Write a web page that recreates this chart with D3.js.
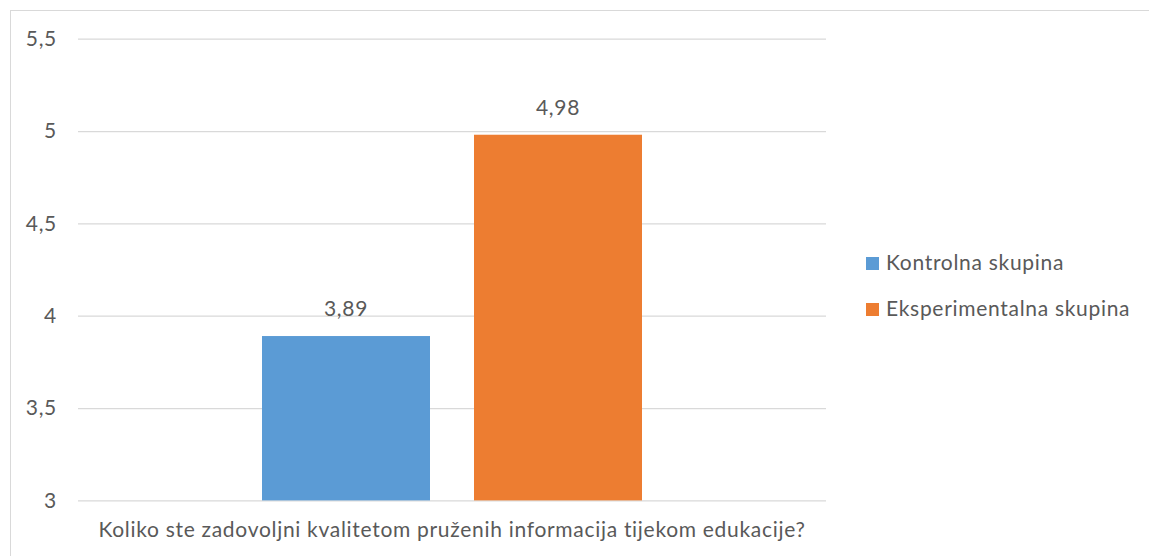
<!DOCTYPE html>
<html><head><meta charset="utf-8">
<script src="https://cdn.jsdelivr.net/npm/d3@7"></script>
<style>body{margin:0;background:#fff}svg{display:block}text{font-family:Lato,"Open Sans",sans-serif;fill:#595959;letter-spacing:0.7px}</style>
</head><body><svg id="c" width="1149" height="556"></svg>
<script>
const category = "Koliko ste zadovoljni kvalitetom pruženih informacija tijekom edukacije?";
const seriesNames = ["Kontrolna skupina", "Eksperimentalna skupina"];
const seriesValues = [3.89, 4.98];
const seriesColors = ["#5B9BD5", "#ED7D31"];
const yTicks = [3, 3.5, 4, 4.5, 5, 5.5];

const svg = d3.select("#c");
const fmt = v => String(v).replace(".", ",");
const fs = 21;

svg.append("rect").attr("x",10.5).attr("y",10.5).attr("width",1200).attr("height",600)
  .attr("fill","none").attr("stroke","#d9d9d9");

const x0 = d3.scaleBand().domain([category]).range([78, 826]);
const x1 = d3.scaleBand().domain(seriesNames).range([262, 642]).paddingInner(44/212);
const y = d3.scaleLinear().domain([3, 5.5]).range([500.4, 38.7]);

const gAxis = svg.append("g").attr("transform","translate(78,0)")
  .call(d3.axisLeft(y).tickValues(yTicks).tickSize(-748).tickFormat(fmt).tickPadding(21));
gAxis.select(".domain").remove();
gAxis.selectAll(".tick line").attr("stroke","#d9d9d9").attr("stroke-width",1.3);
gAxis.selectAll(".tick text").attr("font-size",fs).attr("font-family","Lato").attr("fill","#595959");

svg.append("g").selectAll("rect").data(seriesValues).join("rect")
  .attr("x",(d,i)=>x1(seriesNames[i])).attr("width",x1.bandwidth())
  .attr("y",d=>y(d)).attr("height",d=>y(3)-y(d)).attr("fill",(d,i)=>seriesColors[i]);

svg.append("g").selectAll("text").data(seriesValues).join("text")
  .attr("x",(d,i)=>x1(seriesNames[i])+x1.bandwidth()/2).attr("y",d=>y(d)-20)
  .attr("text-anchor","middle").attr("font-size",fs).text(fmt);

svg.append("text").attr("x",x0(category)+x0.bandwidth()/2).attr("y",537)
  .attr("text-anchor","middle").attr("font-size",fs).text(category);

const lg = svg.append("g").selectAll("g").data(seriesNames).join("g")
  .attr("transform",(d,i)=>`translate(866,${257+i*46})`);
lg.append("rect").attr("width",13).attr("height",13).attr("fill",(d,i)=>seriesColors[i]);
lg.append("text").attr("x",20).attr("y",12.5).attr("font-size",fs).text(d=>d);
</script></body></html>
